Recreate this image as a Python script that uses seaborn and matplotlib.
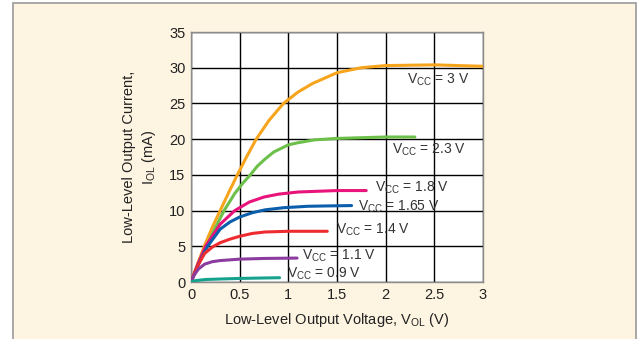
import matplotlib
matplotlib.use("Agg")
import matplotlib.pyplot as plt
import matplotlib.patches as mpatches
import seaborn as sns
import pandas as pd

# (V_OL in volts, I_OL in mA)
vcc_labels = ["3 V", "2.3 V", "1.8 V", "1.65 V", "1.4 V", "1.1 V", "0.9 V"]

v_3 = [0, 0.07, 0.137, 0.22, 0.30, 0.39, 0.476, 0.57, 0.67, 0.8, 0.95, 1.1, 1.25, 1.5, 1.75, 2.0, 2.5, 3.0]
i_3 = [0, 2.6, 5.0, 7.7, 10.0, 12.6, 15.0, 17.5, 20.0, 22.6, 25.0, 26.6, 27.8, 29.3, 30.0, 30.3, 30.4, 30.2]

v_23 = [0, 0.08, 0.16, 0.25, 0.34, 0.45, 0.53, 0.61, 0.68, 0.76, 0.85, 1.0, 1.1, 1.27, 1.5, 2.0, 2.3]
i_23 = [0, 2.6, 5.0, 7.6, 10.0, 12.4, 13.8, 15.0, 16.2, 17.2, 18.2, 19.2, 19.5, 19.9, 20.1, 20.3, 20.3]

v_18 = [0, 0.07, 0.15, 0.3, 0.45, 0.6, 0.75, 0.9, 1.1, 1.3, 1.5, 1.8]
i_18 = [0, 2.5, 5.0, 8.1, 10.0, 11.2, 11.9, 12.3, 12.6, 12.7, 12.8, 12.8]

v_165 = [0, 0.08, 0.17, 0.3, 0.4, 0.5, 0.63, 0.76, 0.95, 1.2, 1.4, 1.65]
i_165 = [0, 2.6, 5.0, 7.4, 8.4, 9.1, 9.7, 10.1, 10.4, 10.6, 10.65, 10.7]

v_14 = [0, 0.07, 0.14, 0.22, 0.3, 0.4, 0.5, 0.63, 0.76, 1.0, 1.4]
i_14 = [0, 2.3, 4.0, 4.9, 5.5, 6.0, 6.4, 6.8, 7.0, 7.1, 7.1]

v_11 = [0, 0.03, 0.075, 0.14, 0.22, 0.3, 0.5, 0.76, 1.09]
i_11 = [0, 0.9, 1.8, 2.5, 2.85, 3.0, 3.2, 3.3, 3.35]

v_09 = [0, 0.05, 0.15, 0.3, 0.5, 0.7, 0.91]
i_09 = [0, 0.2, 0.35, 0.42, 0.5, 0.55, 0.6]

label_x = [2.22, 2.07, 1.89, 1.72, 1.49, 1.14, 0.99]
label_y = [28.3, 18.5, 13.2, 10.5, 7.3, 3.6, 1.1]

colors = ["#F7A41D", "#6CC04A", "#E8147B", "#0B5EAC", "#EE2B2E", "#8C3B9E", "#16A38E"]

series = [(v_3, i_3), (v_23, i_23), (v_18, i_18), (v_165, i_165),
          (v_14, i_14), (v_11, i_11), (v_09, i_09)]
frames = []
for lab, (v, i) in zip(vcc_labels, series):
    frames.append(pd.DataFrame({"vol": v, "iol": i, "vcc": lab}))
df = pd.concat(frames, ignore_index=True)

sns.set_style("white")
plt.rcParams["font.family"] = ["Liberation Sans", "DejaVu Sans"]
plt.rcParams["mathtext.fontset"] = "custom"
plt.rcParams["mathtext.rm"] = "Liberation Sans"

fig = plt.figure(figsize=(6.37, 3.39), dpi=100)
fig.patch.set_facecolor("white")
bg = mpatches.Rectangle((12.5 / 637, -0.02), (636 - 12.5) / 637, 1.02 - 2.5 / 339,
                        transform=fig.transFigure, facecolor="#FDF4E1",
                        edgecolor="#9A9A9A", linewidth=1.2, zorder=-5)
fig.patches.append(bg)

ax = fig.add_axes([191 / 637, 1 - 282 / 339, (483 - 191) / 637, (282 - 32) / 339])
ax.set_zorder(2)
ax.set_facecolor("white")

sns.lineplot(data=df, x="vol", y="iol", hue="vcc", palette=colors, sort=False,
             linewidth=2.2, legend=False, ax=ax, zorder=3)
for line in ax.lines:
    line.set_solid_joinstyle("round")

for lab, x, y in zip(vcc_labels, label_x, label_y):
    ax.text(x, y, r"V$_{\mathregular{CC}}$ = " + lab, fontsize=10, color="#333333",
            va="center", ha="left", zorder=4)

ax.set_xlim(0, 3)
ax.set_ylim(0, 35)
ax.set_xticks([0, 0.5, 1, 1.5, 2, 2.5, 3])
ax.set_xticklabels(["0", "0.5", "1", "1.5", "2", "2.5", "3"])
ax.set_yticks(range(0, 36, 5))
ax.grid(True, color="black", linewidth=1, zorder=1)
ax.set_axisbelow(True)
for sp in ax.spines.values():
    sp.set_color("#8C8C8C")
    sp.set_linewidth(1)
ax.tick_params(axis="both", length=0, labelsize=10.5, colors="#222222", pad=4)

ax.set_xlabel(r"Low-Level Output Voltage, V$_{\mathregular{OL}}$ (V)", fontsize=10.5,
              color="#222222", labelpad=7)
ax.set_ylabel("Low-Level Output Current,\n" + r"I$_{\mathregular{OL}}$ (mA)", fontsize=10.5,
              color="#222222", labelpad=8, linespacing=1.3)

fig.savefig("out.png", dpi=100)
